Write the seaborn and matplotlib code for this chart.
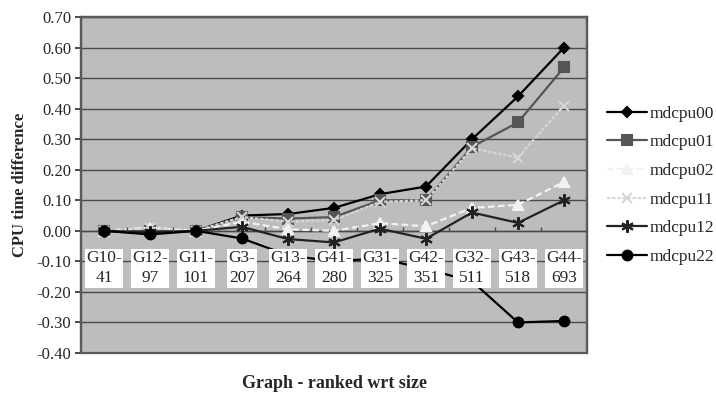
import numpy as np
import pandas as pd
import matplotlib
matplotlib.use("Agg")
import matplotlib.pyplot as plt
from matplotlib.ticker import FormatStrFormatter, FixedLocator
import seaborn as sns

categories = ["G10-\n41", "G12-\n97", "G11-\n101", "G3-\n207", "G13-\n264", "G41-\n280",
              "G31-\n325", "G42-\n351", "G32-\n511", "G43-\n518", "G44-\n693"]
mdcpu00 = [0.00, -0.005, 0.00, 0.05, 0.055, 0.075, 0.12, 0.145, 0.30, 0.44, 0.60]
mdcpu01 = [0.00, 0.00, 0.00, 0.045, 0.04, 0.045, 0.10, 0.10, 0.275, 0.355, 0.535]
mdcpu02 = [0.00, 0.01, 0.00, 0.03, 0.005, 0.00, 0.025, 0.015, 0.075, 0.085, 0.16]
mdcpu11 = [0.00, 0.01, 0.00, 0.045, 0.03, 0.035, 0.095, 0.10, 0.27, 0.24, 0.41]
mdcpu12 = [0.00, -0.005, 0.00, 0.013, -0.027, -0.038, 0.007, -0.026, 0.06, 0.026, 0.10]
mdcpu22 = [0.00, -0.012, 0.00, -0.025, -0.08, -0.10, -0.09, -0.125, -0.165, -0.30, -0.295]
y_ticks = [-0.40, -0.30, -0.20, -0.10, 0.00, 0.10, 0.20, 0.30, 0.40, 0.50, 0.60, 0.70]

series = {"mdcpu00": mdcpu00, "mdcpu01": mdcpu01, "mdcpu02": mdcpu02,
          "mdcpu11": mdcpu11, "mdcpu12": mdcpu12, "mdcpu22": mdcpu22}

rows = []
for name, vals in series.items():
    for i, v in enumerate(vals):
        rows.append({"idx": i, "value": v, "series": name})
df = pd.DataFrame(rows)

sns.set_theme(style="white")
plt.rcParams["font.family"] = ["Liberation Serif", "DejaVu Serif"]

fig = plt.figure(figsize=(7.16, 3.94), dpi=100)
ax = fig.add_axes([81/716, 1-353/394, (587-81)/716, (353-17)/394])
ax.set_facecolor("#bdbdbd")

styles = {
    "mdcpu00": dict(color="#000000", marker="D", ls="-", ms=5.5),
    "mdcpu01": dict(color="#555555", marker="s", ls="-", ms=6.5),
    "mdcpu02": dict(color="#f2f2f2", marker="^", ls=(0, (3, 1.5)), ms=7),
    "mdcpu11": dict(color="#d6d6d6", marker="x", ls=(0, (1.5, 0.8)), ms=7),
    "mdcpu12": dict(color="#222222", marker=(6, 2, 0), ls="-", ms=9),
    "mdcpu22": dict(color="#000000", marker="o", ls="-", ms=7),
}

for name in series:
    st = styles[name]
    sub = df[df["series"] == name]
    sns.lineplot(data=sub, x="idx", y="value", ax=ax, color=st["color"],
                 marker=st["marker"], linestyle=st["ls"], markersize=st["ms"],
                 markeredgewidth=1.5, markeredgecolor=st["color"],
                 markerfacecolor=st["color"], linewidth=1.6, label=name, zorder=3)

ax.set_xlim(-0.5, 10.5)
ax.set_ylim(-0.40, 0.70)
ax.set_yticks(y_ticks)
ax.set_yticklabels([f"{v:.2f}" for v in y_ticks])
ax.grid(axis="y", color="#4a4a4a", linewidth=1.0)
ax.grid(axis="x", visible=False)
ax.set_axisbelow(True)
ax.xaxis.set_zorder(4)

# category axis crossing at zero
ax.spines["bottom"].set_position(("data", 0))
ax.spines["bottom"].set_color("#4a4a4a")
ax.spines["bottom"].set_linewidth(1.0)
ax.spines["bottom"].set_zorder(1)
for s in ["left", "right", "top"]:
    ax.spines[s].set_color("#5a5a5a")
    ax.spines[s].set_linewidth(1.6)
ax.add_patch(plt.Rectangle((0, 0), 1, 1, transform=ax.transAxes, fill=False,
                           edgecolor="#5a5a5a", linewidth=1.6, zorder=5, clip_on=False))

ax.set_xticks(range(len(categories)))
ax.set_xticklabels(categories, fontsize=12.5, linespacing=1.35)
ax.xaxis.set_minor_locator(FixedLocator(np.arange(0.5, 10, 1)))
ax.tick_params(axis="x", which="major", length=0, pad=14)
ax.tick_params(axis="x", which="minor", length=3, direction="in", color="#4a4a4a", bottom=True)
for lbl in ax.get_xticklabels():
    lbl.set_bbox(dict(facecolor="white", edgecolor="none", pad=1))
ax.tick_params(axis="y", labelsize=12, length=4, pad=3, left=True, color="#333333")

ax.set_xlabel("Graph - ranked wrt size", fontsize=13, fontweight="bold")
ax.xaxis.set_label_coords(0.5, -0.065)
ax.set_ylabel("CPU time difference", fontsize=12, fontweight="bold", labelpad=6)

handles, labels = ax.get_legend_handles_labels()
if ax.legend_ is not None:
    ax.legend_.remove()
fig.legend(handles, labels, loc="upper left", bbox_to_anchor=(0.848, 0.732),
           frameon=False, fontsize=12.5, handlelength=2.3, handletextpad=0.15,
           labelspacing=0.72, borderpad=0, borderaxespad=0)

fig.savefig("out.png", dpi=100)
